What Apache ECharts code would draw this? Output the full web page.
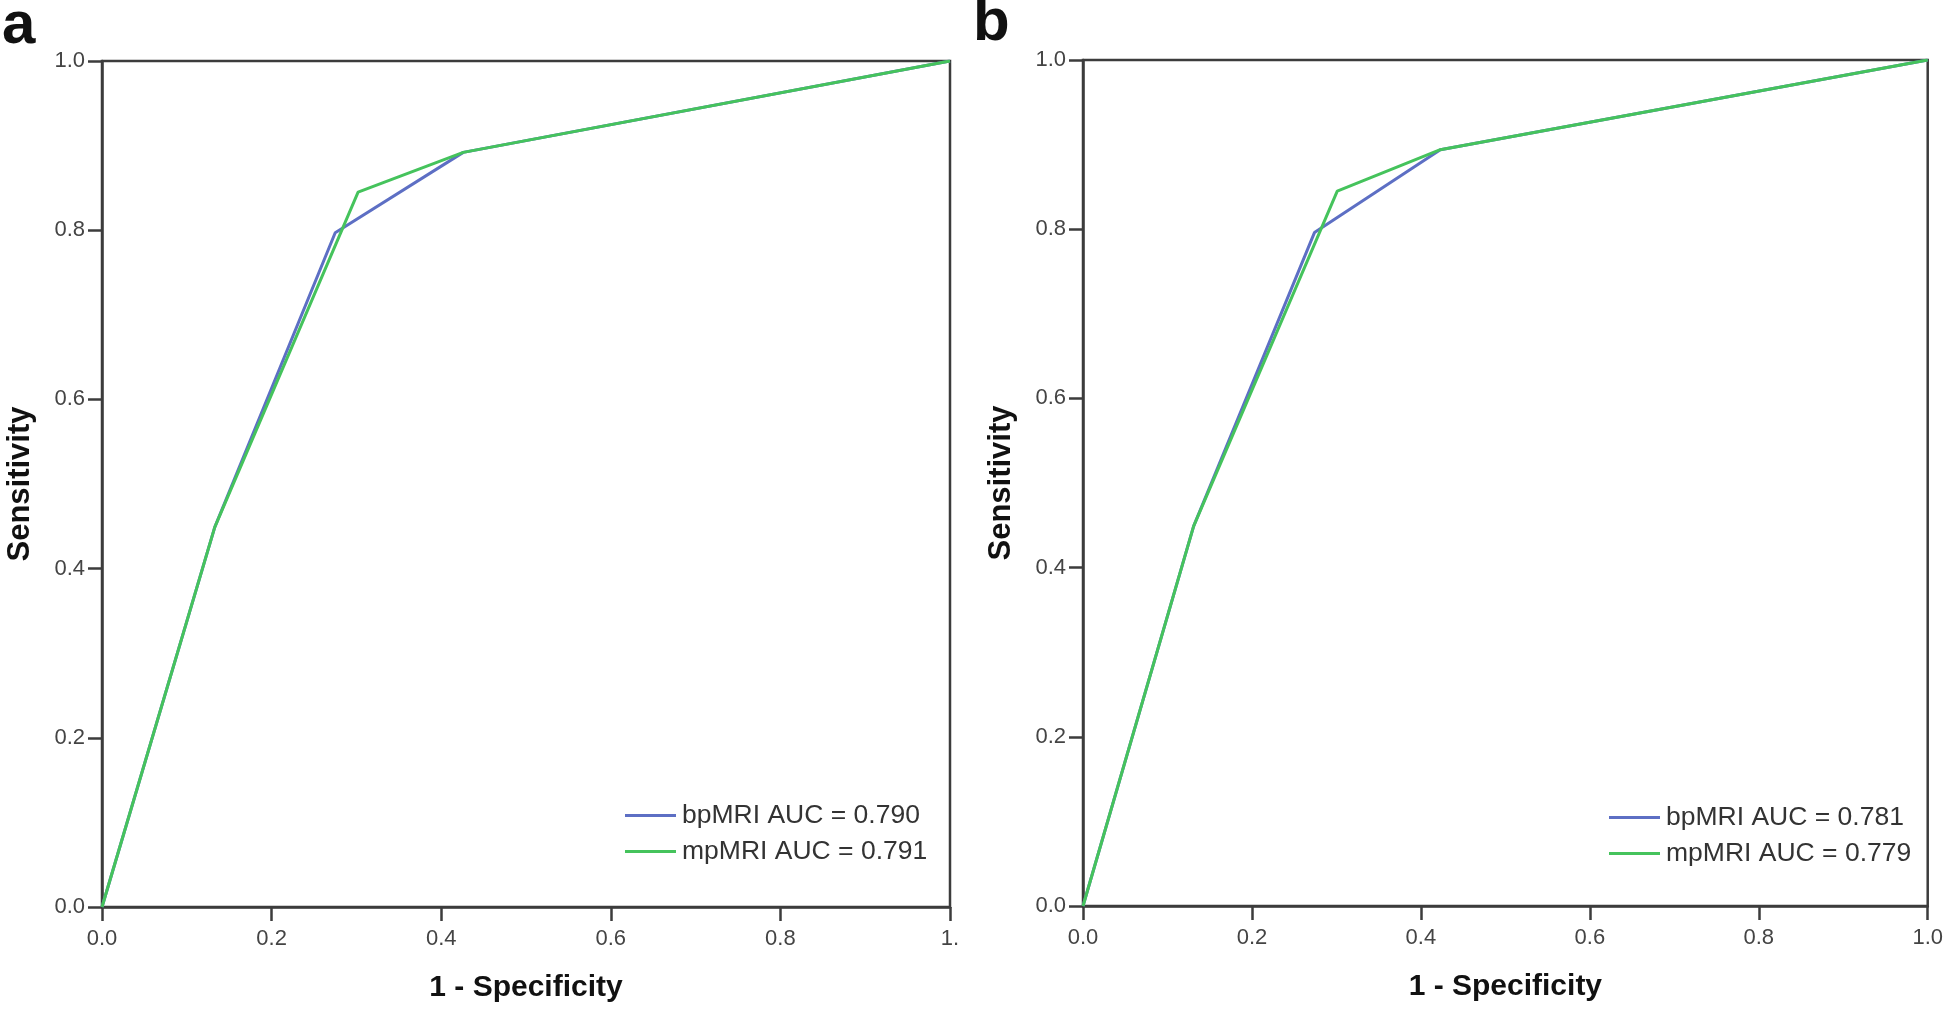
<!DOCTYPE html>
<html>
<head>
<meta charset="utf-8">
<script src="https://cdn.jsdelivr.net/npm/echarts@6/dist/echarts.min.js"></script>
<style>
  html, body { margin: 0; padding: 0; background: #fff; }
  #chart { width: 1946px; height: 1010px; }
</style>
</head>
<body>
<div id="chart"></div>
<script>
// panel a (1 - specificity, sensitivity)
const bpFprA = [0, 0.133, 0.275, 0.426, 1]
const bpSensA = [0, 0.449, 0.797, 0.892, 1]
const mpFprA = [0, 0.133, 0.302, 0.426, 1]
const mpSensA = [0, 0.449, 0.845, 0.892, 1]
// panel b
const bpFprB = [0, 0.131, 0.274, 0.423, 1]
const bpSensB = [0, 0.449, 0.796, 0.894, 1]
const mpFprB = [0, 0.131, 0.301, 0.423, 1]
const mpSensB = [0, 0.449, 0.845, 0.894, 1]

const namesA = ['bpMRI AUC = 0.790', 'mpMRI AUC = 0.791']
const namesB = ['bpMRI AUC = 0.781', 'mpMRI AUC = 0.779']
const panelLabels = ['a', 'b']

const BLUE = '#5d6fc4'
const GREEN = '#45c35c'
const AXIS = '#3c3c3c'
const FONT = 'Liberation Sans, Arial, sans-serif'

const zip = (xs, ys) => xs.map((x, i) => [x, ys[i]])

const xAxisFor = (gridIndex, lastLabel) => ({
    type: 'value',
    gridIndex,
    min: 0,
    max: 1,
    interval: 0.2,
    name: '1 - Specificity',
    nameLocation: 'middle',
    nameGap: 66,
    nameTextStyle: { color: '#111', fontSize: 30, fontWeight: 'bold', fontFamily: FONT },
    axisLine: { show: true, lineStyle: { color: AXIS, width: 2.5 } },
    axisTick: { show: true, length: 14, lineStyle: { color: AXIS, width: 2.5 } },
    axisLabel: {
        color: '#444', fontSize: 22, fontFamily: FONT, margin: 21,
        formatter: v => (v === 1 ? lastLabel : v.toFixed(1))
    },
    splitLine: { show: false }
})

const yAxisFor = gridIndex => ({
    type: 'value',
    gridIndex,
    min: 0,
    max: 1,
    interval: 0.2,
    name: 'Sensitivity',
    nameLocation: 'middle',
    nameGap: 66,
    nameRotate: 90,
    nameTextStyle: { color: '#111', fontSize: 31, fontWeight: 'bold', fontFamily: FONT },
    axisLine: { show: true, lineStyle: { color: AXIS, width: 2.5 } },
    axisTick: { show: true, length: 14, lineStyle: { color: AXIS, width: 2.5 } },
    axisLabel: { color: '#444', fontSize: 22, fontFamily: FONT, margin: 17, formatter: v => v.toFixed(1) },
    splitLine: { show: false }
})

const lineSeries = (name, color, idx, data) => ({
    name,
    type: 'line',
    xAxisIndex: idx,
    yAxisIndex: idx,
    data,
    showSymbol: false,
    lineStyle: { color, width: 3 },
    itemStyle: { color },
    z: color === GREEN ? 3 : 2
})

const legendFor = (names, left, top) => ({
    data: names,
    orient: 'vertical',
    left,
    top,
    icon: 'rect',
    itemWidth: 51,
    itemHeight: 3,
    itemGap: 9,
    textStyle: { color: '#333', fontSize: 26.5, fontFamily: FONT, padding: [0, 0, 0, 1] }
})

const chart = echarts.init(document.getElementById('chart'))
chart.setOption({
    backgroundColor: '#fff',
    animation: false,
    grid: [
        { left: 102, top: 61, width: 848, height: 846, show: true, borderColor: AXIS, borderWidth: 2.5, backgroundColor: 'transparent' },
        { left: 1083, top: 60, width: 846, height: 846, show: true, borderColor: AXIS, borderWidth: 2.5, backgroundColor: 'transparent' }
    ],
    xAxis: [xAxisFor(0, '1.'), xAxisFor(1, '1.0')],
    yAxis: [yAxisFor(0), yAxisFor(1)],
    legend: [legendFor(namesA, 620, 797), legendFor(namesB, 1604, 799)],
    graphic: [
        { type: 'text', left: 2, top: -4, style: { text: panelLabels[0], fontSize: 60, fontWeight: 'bold', fontFamily: FONT, fill: '#111' } },
        { type: 'text', left: 973, top: -7, style: { text: panelLabels[1], fontSize: 60, fontWeight: 'bold', fontFamily: FONT, fill: '#111' } }
    ],
    series: [
        lineSeries(namesA[0], BLUE, 0, zip(bpFprA, bpSensA)),
        lineSeries(namesA[1], GREEN, 0, zip(mpFprA, mpSensA)),
        lineSeries(namesB[0], BLUE, 1, zip(bpFprB, bpSensB)),
        lineSeries(namesB[1], GREEN, 1, zip(mpFprB, mpSensB))
    ]
})
</script>
</body>
</html>
